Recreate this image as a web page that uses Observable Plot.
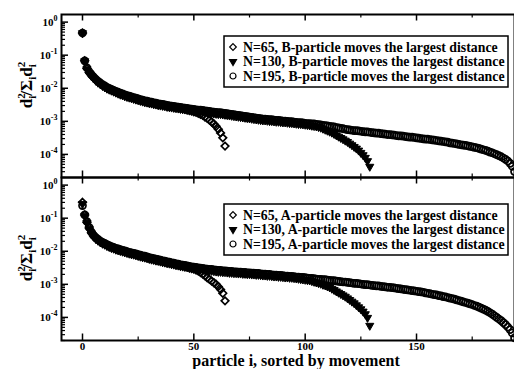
<!DOCTYPE html>
<html><head><meta charset="utf-8">
<script src="https://cdn.jsdelivr.net/npm/d3@7"></script>
<script src="https://cdn.jsdelivr.net/npm/@observablehq/plot@0.6"></script>
<style>body{margin:0;background:#fff}</style>
</head><body><div id="chart"></div>
<script>
// Values (exponent of 10) for d_i^2 / Σ d_i^2, i = 0..N-1
const expB65 = [-0.33,-1.17,-1.40,-1.52,-1.61,-1.68,-1.75,-1.81,-1.86,-1.91,
-1.95,-1.99,-2.02,-2.05,-2.08,-2.11,-2.14,-2.17,-2.19,-2.22,
-2.24,-2.26,-2.28,-2.30,-2.32,-2.34,-2.36,-2.38,-2.40,-2.41,
-2.43,-2.44,-2.46,-2.47,-2.49,-2.50,-2.51,-2.52,-2.54,-2.55,
-2.56,-2.57,-2.58,-2.59,-2.61,-2.62,-2.63,-2.65,-2.67,-2.69,
-2.71,-2.73,-2.76,-2.79,-2.82,-2.87,-2.91,-2.96,-3.02,-3.08,
-3.15,-3.24,-3.35,-3.50,-3.75];
const expB130 = [-0.33,-1.18,-1.42,-1.54,-1.63,-1.70,-1.77,-1.83,-1.88,-1.93,
-1.97,-2.01,-2.04,-2.07,-2.10,-2.13,-2.16,-2.19,-2.21,-2.24,
-2.26,-2.28,-2.30,-2.32,-2.34,-2.36,-2.38,-2.40,-2.42,-2.43,
-2.45,-2.46,-2.48,-2.49,-2.51,-2.52,-2.53,-2.54,-2.56,-2.57,
-2.58,-2.59,-2.60,-2.61,-2.62,-2.63,-2.64,-2.65,-2.66,-2.67,
-2.68,-2.69,-2.70,-2.70,-2.71,-2.72,-2.73,-2.74,-2.75,-2.76,
-2.77,-2.78,-2.78,-2.79,-2.80,-2.81,-2.82,-2.83,-2.84,-2.85,
-2.86,-2.87,-2.88,-2.89,-2.90,-2.91,-2.92,-2.93,-2.94,-2.95,
-2.96,-2.97,-2.97,-2.98,-2.99,-2.99,-3.00,-3.01,-3.01,-3.02,
-3.03,-3.03,-3.04,-3.05,-3.05,-3.06,-3.07,-3.08,-3.08,-3.09,
-3.10,-3.11,-3.12,-3.13,-3.14,-3.15,-3.17,-3.19,-3.22,-3.25,
-3.28,-3.31,-3.34,-3.38,-3.42,-3.46,-3.50,-3.54,-3.58,-3.62,
-3.67,-3.72,-3.77,-3.82,-3.88,-3.95,-4.02,-4.10,-4.20,-4.37];
const expB195 = [-0.33,-1.17,-1.38,-1.50,-1.59,-1.66,-1.73,-1.79,-1.84,-1.89,
-1.93,-1.97,-2.00,-2.03,-2.06,-2.09,-2.12,-2.15,-2.17,-2.20,
-2.22,-2.24,-2.26,-2.28,-2.30,-2.32,-2.34,-2.36,-2.38,-2.39,
-2.41,-2.42,-2.44,-2.45,-2.47,-2.48,-2.49,-2.50,-2.52,-2.53,
-2.54,-2.55,-2.56,-2.57,-2.58,-2.59,-2.60,-2.61,-2.62,-2.63,
-2.64,-2.65,-2.66,-2.66,-2.67,-2.68,-2.69,-2.70,-2.71,-2.72,
-2.73,-2.74,-2.74,-2.75,-2.76,-2.77,-2.78,-2.79,-2.80,-2.81,
-2.82,-2.83,-2.84,-2.85,-2.86,-2.87,-2.88,-2.89,-2.90,-2.91,
-2.92,-2.93,-2.93,-2.94,-2.95,-2.95,-2.96,-2.97,-2.97,-2.98,
-2.99,-2.99,-3.00,-3.01,-3.01,-3.02,-3.03,-3.04,-3.04,-3.05,
-3.06,-3.07,-3.07,-3.08,-3.08,-3.09,-3.10,-3.11,-3.12,-3.13,
-3.14,-3.15,-3.16,-3.17,-3.19,-3.20,-3.21,-3.22,-3.24,-3.25,
-3.26,-3.27,-3.28,-3.28,-3.29,-3.30,-3.31,-3.32,-3.32,-3.33,
-3.34,-3.35,-3.36,-3.36,-3.37,-3.38,-3.39,-3.40,-3.40,-3.41,
-3.42,-3.43,-3.44,-3.44,-3.45,-3.46,-3.47,-3.48,-3.48,-3.49,
-3.50,-3.51,-3.52,-3.53,-3.54,-3.54,-3.55,-3.56,-3.57,-3.58,
-3.59,-3.60,-3.61,-3.62,-3.63,-3.65,-3.66,-3.67,-3.68,-3.70,
-3.71,-3.72,-3.73,-3.74,-3.76,-3.77,-3.79,-3.80,-3.82,-3.84,
-3.86,-3.88,-3.90,-3.93,-3.95,-3.98,-4.01,-4.04,-4.07,-4.11,
-4.15,-4.20,-4.27,-4.36,-4.52];
const expA65 = [-0.52,-0.90,-1.12,-1.30,-1.44,-1.54,-1.61,-1.66,-1.71,-1.75,
-1.78,-1.82,-1.85,-1.88,-1.90,-1.93,-1.95,-1.97,-1.99,-2.01,
-2.03,-2.05,-2.07,-2.08,-2.10,-2.12,-2.14,-2.16,-2.17,-2.19,
-2.21,-2.23,-2.24,-2.26,-2.27,-2.29,-2.31,-2.32,-2.34,-2.35,
-2.37,-2.38,-2.40,-2.41,-2.43,-2.44,-2.46,-2.48,-2.50,-2.52,
-2.54,-2.57,-2.60,-2.64,-2.69,-2.74,-2.80,-2.85,-2.90,-2.95,
-3.00,-3.07,-3.16,-3.27,-3.50];
const expA130 = [-0.57,-0.92,-1.14,-1.32,-1.46,-1.56,-1.63,-1.68,-1.73,-1.77,
-1.80,-1.84,-1.87,-1.90,-1.92,-1.95,-1.97,-1.99,-2.01,-2.03,
-2.05,-2.07,-2.09,-2.10,-2.12,-2.14,-2.16,-2.18,-2.19,-2.21,
-2.23,-2.25,-2.26,-2.28,-2.29,-2.31,-2.33,-2.34,-2.36,-2.37,
-2.39,-2.40,-2.42,-2.43,-2.45,-2.46,-2.47,-2.48,-2.50,-2.51,
-2.52,-2.53,-2.54,-2.55,-2.56,-2.57,-2.58,-2.59,-2.59,-2.60,
-2.61,-2.62,-2.62,-2.63,-2.63,-2.64,-2.65,-2.65,-2.66,-2.66,
-2.67,-2.67,-2.68,-2.68,-2.69,-2.69,-2.70,-2.70,-2.71,-2.71,
-2.72,-2.73,-2.73,-2.74,-2.74,-2.75,-2.76,-2.76,-2.77,-2.77,
-2.78,-2.79,-2.79,-2.80,-2.80,-2.81,-2.82,-2.83,-2.84,-2.85,
-2.86,-2.87,-2.88,-2.90,-2.92,-2.94,-2.96,-2.98,-3.01,-3.03,
-3.06,-3.09,-3.13,-3.17,-3.21,-3.25,-3.29,-3.33,-3.37,-3.42,
-3.47,-3.52,-3.57,-3.63,-3.69,-3.75,-3.82,-3.90,-4.01,-4.25];
const expA195 = [-0.62,-0.90,-1.10,-1.28,-1.42,-1.52,-1.59,-1.64,-1.69,-1.73,
-1.76,-1.80,-1.83,-1.86,-1.88,-1.91,-1.93,-1.95,-1.97,-1.99,
-2.01,-2.03,-2.05,-2.06,-2.08,-2.10,-2.12,-2.14,-2.15,-2.17,
-2.19,-2.21,-2.22,-2.24,-2.25,-2.27,-2.29,-2.30,-2.32,-2.33,
-2.35,-2.36,-2.38,-2.39,-2.41,-2.42,-2.43,-2.44,-2.46,-2.47,
-2.48,-2.49,-2.50,-2.51,-2.52,-2.53,-2.54,-2.55,-2.55,-2.56,
-2.57,-2.58,-2.58,-2.59,-2.59,-2.60,-2.61,-2.61,-2.62,-2.62,
-2.63,-2.63,-2.64,-2.64,-2.65,-2.65,-2.66,-2.66,-2.67,-2.67,
-2.68,-2.69,-2.69,-2.70,-2.70,-2.71,-2.72,-2.72,-2.73,-2.73,
-2.74,-2.75,-2.75,-2.76,-2.76,-2.77,-2.78,-2.78,-2.79,-2.79,
-2.80,-2.81,-2.82,-2.82,-2.83,-2.84,-2.85,-2.85,-2.86,-2.86,
-2.87,-2.88,-2.89,-2.89,-2.90,-2.91,-2.92,-2.93,-2.93,-2.94,
-2.95,-2.96,-2.97,-2.97,-2.98,-2.99,-3.00,-3.01,-3.01,-3.02,
-3.03,-3.04,-3.05,-3.05,-3.06,-3.07,-3.08,-3.09,-3.09,-3.10,
-3.11,-3.12,-3.13,-3.14,-3.15,-3.16,-3.17,-3.18,-3.19,-3.20,
-3.21,-3.22,-3.23,-3.24,-3.26,-3.27,-3.28,-3.30,-3.31,-3.32,
-3.34,-3.35,-3.37,-3.38,-3.40,-3.42,-3.43,-3.45,-3.47,-3.49,
-3.51,-3.53,-3.55,-3.57,-3.59,-3.61,-3.64,-3.66,-3.69,-3.72,
-3.75,-3.78,-3.82,-3.86,-3.90,-3.95,-4.00,-4.05,-4.10,-4.16,
-4.22,-4.29,-4.37,-4.47,-4.62];

const panels = ["B", "A"];
const sizes = [65, 130, 195];
const xMajor = [0, 50, 100, 150];
const xMinor = [25, 75, 125, 175];
const yMajor = [1, 1e-1, 1e-2, 1e-3, 1e-4];
const yMinor = [2e-5,3e-5,4e-5,5e-5,6e-5,7e-5,8e-5,9e-5,
  2e-4,3e-4,4e-4,5e-4,6e-4,7e-4,8e-4,9e-4,
  2e-3,3e-3,4e-3,5e-3,6e-3,7e-3,8e-3,9e-3,
  2e-2,3e-2,4e-2,5e-2,6e-2,7e-2,8e-2,9e-2,
  0.2,0.3,0.4,0.5,0.6,0.7,0.8,0.9];
const legendB = ["N=65, B-particle moves the largest distance",
  "N=130, B-particle moves the largest distance",
  "N=195, B-particle moves the largest distance"];
const legendA = ["N=65, A-particle moves the largest distance",
  "N=130, A-particle moves the largest distance",
  "N=195, A-particle moves the largest distance"];
const xLabel = "particle i, sorted by movement";

const series = [
  {panel: "B", n: 65, exp: expB65}, {panel: "B", n: 130, exp: expB130}, {panel: "B", n: 195, exp: expB195},
  {panel: "A", n: 65, exp: expA65}, {panel: "A", n: 130, exp: expA130}, {panel: "A", n: 195, exp: expA195}
];
const rows = series.flatMap(s => s.exp.map((e, i) => ({panel: s.panel, n: s.n, i, v: Math.pow(10, e)})));

const W = 514, H = 369, mL = 61, mR = 0, mT = 13, mB = 29;
const facetH = (H - mT - mB) / 2;
const innerW = W - mL - mR;
const serif = "'Liberation Serif','Times New Roman',serif";

const dotStyle = {
  65: {symbol: "diamond2", r: 3.4, fill: "none", stroke: "black", strokeWidth: 1.7},
  130: {symbol: "triangle", r: 3, fill: "black", stroke: "black", strokeWidth: 1, rotate: 180},
  195: {symbol: "circle", r: 3.5, fill: "none", stroke: "black", strokeWidth: 1.7}
};

const chart = Plot.plot({
  width: W, height: H, marginLeft: mL, marginRight: mR, marginTop: mT, marginBottom: mB,
  style: {fontFamily: serif, background: "white", color: "black"},
  x: {domain: [-9.43, 194]},
  y: {type: "log", domain: [2e-5, 1.7]},
  fy: {domain: panels, padding: 0, axis: null},
  marks: [
    ...sizes.map(n => Plot.dot(rows.filter(d => d.n === n), {x: "i", y: "v", fy: "panel", ...dotStyle[n]})),
    Plot.ruleX(xMajor, {insetTop: facetH - 7, strokeWidth: 1.5}),
    Plot.ruleX(xMajor, {insetBottom: facetH - 7, strokeWidth: 1.5}),
    Plot.ruleX(xMinor, {insetTop: facetH - 4, strokeWidth: 1.2}),
    Plot.ruleX(xMinor, {insetBottom: facetH - 4, strokeWidth: 1.2}),
    Plot.ruleY(yMajor, {insetRight: innerW - 7, strokeWidth: 1.5}),
    Plot.ruleY(yMinor, {insetRight: innerW - 4, strokeWidth: 1.2}),
    Plot.frame({stroke: "black", strokeWidth: 2}),
    Plot.axisX(xMajor, {tickSize: 0, tickPadding: 2, fontSize: 11, fontWeight: "bold", label: null}),
    Plot.axisY(yMajor, {tickSize: 0, tickPadding: 4, fontSize: 11, fontWeight: "bold", label: null,
      tickFormat: d => "10^" + Math.round(Math.log10(d))})
  ]
});
document.getElementById("chart").appendChild(chart);

const svg = d3.select(chart);
// superscript exponents on the y tick labels
svg.selectAll('g[aria-label="y-axis tick label"] text').each(function () {
  const [b, e] = this.textContent.split("^");
  const t = d3.select(this);
  t.text(null);
  t.append("tspan").text(b);
  t.append("tspan").attr("font-size", 8).attr("dy", -5).text(e);
});

// legends
const legendTops = [36, 204];
[legendB, legendA].forEach((labels, k) => {
  const top = legendTops[k];
  const g = svg.append("g").attr("font-family", serif).attr("text-anchor", "start");
  g.append("rect").attr("x", 224).attr("y", top).attr("width", 284).attr("height", 51)
    .attr("fill", "white").attr("stroke", "black").attr("stroke-width", 1.5);
  const types = [d3.symbolDiamond2, d3.symbolTriangle, d3.symbolCircle];
  labels.forEach((lab, j) => {
    const cy = top + 11 + j * 14.5;
    const isTri = j === 1;
    const rr = isTri ? 2.6 : 3;
    g.append("path").attr("d", d3.symbol(types[j], Math.PI * rr * rr)())
      .attr("transform", `translate(233,${cy})${isTri ? " rotate(180)" : ""}`)
      .attr("fill", isTri ? "black" : "none").attr("stroke", "black").attr("stroke-width", 1.2);
    g.append("text").attr("x", 243).attr("y", cy).attr("dy", "0.35em")
      .attr("font-size", 13.8).attr("font-weight", "bold").text(lab);
  });
});

// x axis label
svg.append("text").attr("x", 296).attr("y", 366).attr("text-anchor", "middle")
  .attr("font-family", serif).attr("font-size", 16).attr("font-weight", "bold").text(xLabel);

// y axis labels  d_i^2 / Σ_i d_i^2
[85, 258].forEach(cy => {
  const t = svg.append("text").attr("transform", `translate(32,${cy}) rotate(-90)`)
    .attr("text-anchor", "middle").attr("font-family", serif).attr("font-size", 17).attr("font-weight", "bold");
  t.append("tspan").text("d");
  t.append("tspan").attr("font-size", 11).attr("dy", -7).text("2");
  t.append("tspan").attr("font-size", 11).attr("dx", -5.5).attr("dy", 11).text("i");
  t.append("tspan").attr("dy", -4).text("/Σ");
  t.append("tspan").attr("font-size", 11).attr("dy", 4).text("i");
  t.append("tspan").attr("dy", -4).text("d");
  t.append("tspan").attr("font-size", 11).attr("dy", -7).text("2");
  t.append("tspan").attr("font-size", 11).attr("dx", -5.5).attr("dy", 11).text("i");
});
</script>
</body></html>
